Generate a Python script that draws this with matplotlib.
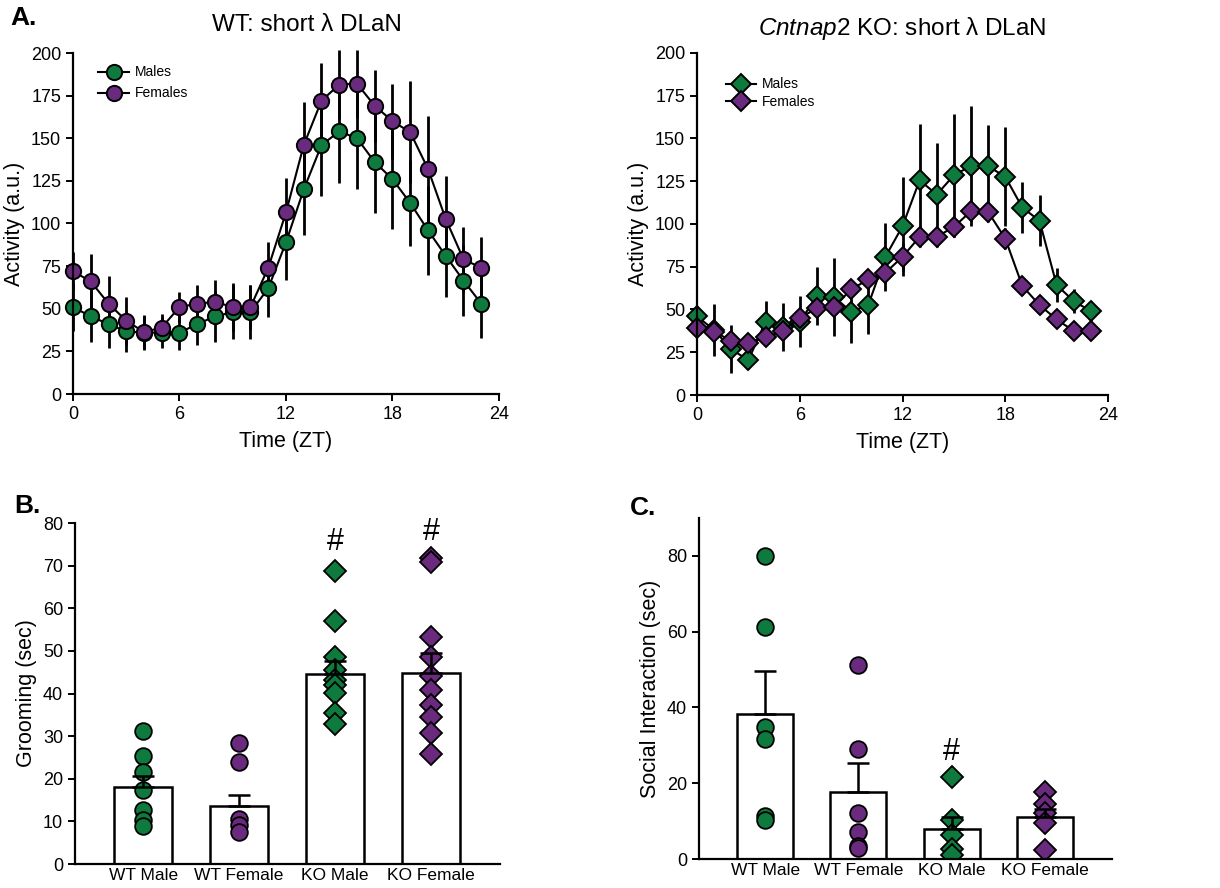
"""Recreate the DLaN activity / grooming / social interaction figure."""
import numpy as np
import matplotlib
matplotlib.use("Agg")
import matplotlib.pyplot as plt

plt.rcParams["font.family"] = ["Liberation Sans", "DejaVu Sans"]
plt.rcParams["mathtext.fontset"] = "custom"
plt.rcParams["mathtext.it"] = "Liberation Sans:italic"
plt.rcParams["mathtext.rm"] = "Liberation Sans"

GREEN = "#0f7a3d"
PURPLE = "#6a2a7e"

# ---- Panel A data (activity per ZT hour) ----
zt = list(range(24))
wt_male = [51, 45.5, 41, 36.7, 36, 36, 36, 41, 45.5, 48, 48, 62, 89, 120,
           146, 154, 150, 136, 126, 112, 96, 81, 66.5, 53]
wt_male_sem = [14, 15, 14, 12, 10, 9, 10, 12, 15, 16, 16, 17, 22, 27,
               30, 30, 30, 30, 29, 25, 26, 24, 21, 20]
wt_female = [72, 66, 53, 43, 36.3, 39, 51, 53, 54, 51, 51, 74, 106.5, 146,
             172, 181.5, 182, 169, 160, 153.5, 132, 102.6, 79, 74]
wt_female_sem = [11, 16, 16, 14, 10, 8, 9, 11, 13, 14, 13, 15, 20, 25,
                 22, 20, 20, 21, 22, 30, 31, 25, 19, 18]

ko_male = [46, 38, 26.7, 20.4, 42.8, 40, 42.8, 57.8, 57.4, 48.7, 52.6, 80.8,
           98.7, 125.6, 117.2, 128.5, 134, 133.8, 127.6, 109.6, 101.9, 64.3,
           54.9, 49]
ko_male_sem = [6, 15, 14, 5, 12, 14, 15, 17, 23, 18, 17, 20, 29, 33, 30, 36,
               35, 24, 29, 15, 15, 10, 7, 6]
ko_female = [39, 37, 31.7, 30.6, 33.7, 37.4, 45.2, 50.6, 51.6, 61.7, 67.6,
             71.5, 80.8, 92.5, 92.5, 98.3, 107.5, 107.1, 91.5, 63.7, 52.6,
             44.2, 37.4, 37.4]
ko_female_sem = [4, 4, 4, 4, 4, 4, 5, 5, 5, 5, 5, 6, 8, 6, 6, 6, 6, 6, 6, 5,
                 5, 4, 4, 4]

# ---- Panel B/C data ----
groups = ["WT Male", "WT Female", "KO Male", "KO Female"]
group_colors = [GREEN, PURPLE, GREEN, PURPLE]
group_markers = ["o", "o", "D", "D"]

groom_means = [18, 13.5, 44.5, 44.9]
groom_sems = [2.7, 2.7, 3.1, 4.5]
groom_points = [
    [31.2, 25.4, 21.5, 17.4, 12.7, 10.4, 9.0],
    [28.3, 24.0, 10.5, 9.2, 7.6],
    [68.8, 57.0, 48.5, 45.5, 43.2, 42.0, 40.2, 35.5, 32.9],
    [71.9, 70.9, 53.3, 48.5, 44.0, 40.8, 37.3, 34.6, 30.7, 25.8],
]
social_means = [38.2, 17.8, 7.9, 11.0]
social_sems = [11.3, 7.6, 3.1, 2.1]
social_points = [
    [80, 61.2, 34.8, 31.6, 11.4, 10.3],
    [51.2, 29, 12.2, 7, 3.3, 2.8],
    [21.7, 10.3, 6.3, 2.6, 1.1],
    [17.8, 14.5, 12.1, 9.4, 2.4],
]

fig = plt.figure(figsize=(12.2, 8.88), dpi=100)

W, H = 1220.0, 888.0


def px_axes(x0, x1, ytop, ybot):
    return fig.add_axes([x0 / W, (H - ybot) / H, (x1 - x0) / W, (ybot - ytop) / H])


def style_axes(ax):
    for side in ["top", "right"]:
        ax.spines[side].set_visible(False)
    for side in ["left", "bottom"]:
        ax.spines[side].set_linewidth(1.6)
    ax.tick_params(width=1.4, length=5, labelsize=13, direction="out")


def activity_panel(ax, male, male_sem, female, female_sem, marker, ms):
    for y, e, c, lab in [(male, male_sem, GREEN, "Males"),
                         (female, female_sem, PURPLE, "Females")]:
        ax.errorbar(zt, y, yerr=e, fmt="-" + marker, color="black", lw=1.5,
                    ecolor="black", elinewidth=2.0, capsize=0,
                    markerfacecolor=c, markeredgecolor="black",
                    markeredgewidth=1.4, ms=ms, label=lab, clip_on=False)
    ax.set_xlim(0, 24)
    ax.set_ylim(0, 200)
    ax.set_xticks([0, 6, 12, 18, 24])
    ax.set_yticks(np.arange(0, 201, 25))
    ax.set_xlabel("Time (ZT)", fontsize=15.5, labelpad=6)
    ax.set_ylabel("Activity (a.u.)", fontsize=15.5, labelpad=4)
    style_axes(ax)


axA1 = px_axes(73, 499, 53, 394)
activity_panel(axA1, wt_male, wt_male_sem, wt_female, wt_female_sem, "o", 11)
axA1.legend(loc="upper left", bbox_to_anchor=(0.03, 1.0), frameon=False,
            fontsize=10, handlelength=2.2, handletextpad=0.4, labelspacing=0.5)

axA2 = px_axes(697, 1108, 53, 395)
activity_panel(axA2, ko_male, ko_male_sem, ko_female, ko_female_sem, "D", 10)
axA2.legend(loc="upper left", bbox_to_anchor=(0.04, 0.965), frameon=False,
            fontsize=10, handlelength=2.2, handletextpad=0.4, labelspacing=0.25)

fig.text(307 / W, 1 - 25 / H, "WT: short λ DLaN", fontsize=17.5,
         ha="center", va="center")
fig.text(902 / W, 1 - 28 / H, r"$\mathit{Cntnap2}$ KO: short λ DLaN",
         fontsize=17.5, ha="center", va="center")


def bar_panel(ax, means, sems, points, ylim, yticks, ylabel):
    xs = np.arange(len(groups))
    ax.bar(xs, means, width=0.6, color="white", edgecolor="black",
           linewidth=1.8, zorder=1)
    for i in range(len(groups)):
        ax.plot([xs[i]] * len(points[i]), points[i], linestyle="none",
                marker=group_markers[i], ms=12 if group_markers[i] == "o" else 11,
                markerfacecolor=group_colors[i], markeredgecolor="black",
                markeredgewidth=1.3, zorder=2)
        ax.errorbar(xs[i], means[i], yerr=[[0], [sems[i]]], fmt="none",
                    ecolor="black", elinewidth=1.8, capsize=8, capthick=1.8,
                    zorder=3)
    ax.set_xlim(-0.71, 3.72)
    ax.set_ylim(*ylim)
    ax.set_yticks(yticks)
    ax.set_xticks(xs)
    ax.set_xticklabels(groups)
    ax.set_ylabel(ylabel, fontsize=15.5, labelpad=4)
    style_axes(ax)
    ax.tick_params(axis="x", length=0, labelsize=12.5, pad=3)


axB = px_axes(75, 500, 523, 864)
bar_panel(axB, groom_means, groom_sems, groom_points, (0, 80),
          np.arange(0, 81, 10), "Grooming (sec)")
axB.text(2, 75.5, "#", fontsize=22, ha="center", va="center")
axB.text(3, 78, "#", fontsize=22, ha="center", va="center")

axC = px_axes(699, 1112, 518, 859)
bar_panel(axC, social_means, social_sems, social_points, (0, 90),
          np.arange(0, 81, 20), "Social Interaction (sec)")
axC.text(2, 28.3, "#", fontsize=22, ha="center", va="center")

fig.text(10 / W, 1 - 18 / H, "A.", fontsize=19, fontweight="bold", va="center")
fig.text(14 / W, 1 - 506 / H, "B.", fontsize=19, fontweight="bold", va="center")
fig.text(630 / W, 1 - 508 / H, "C.", fontsize=19, fontweight="bold", va="center")

fig.savefig("out.png", dpi=100)
